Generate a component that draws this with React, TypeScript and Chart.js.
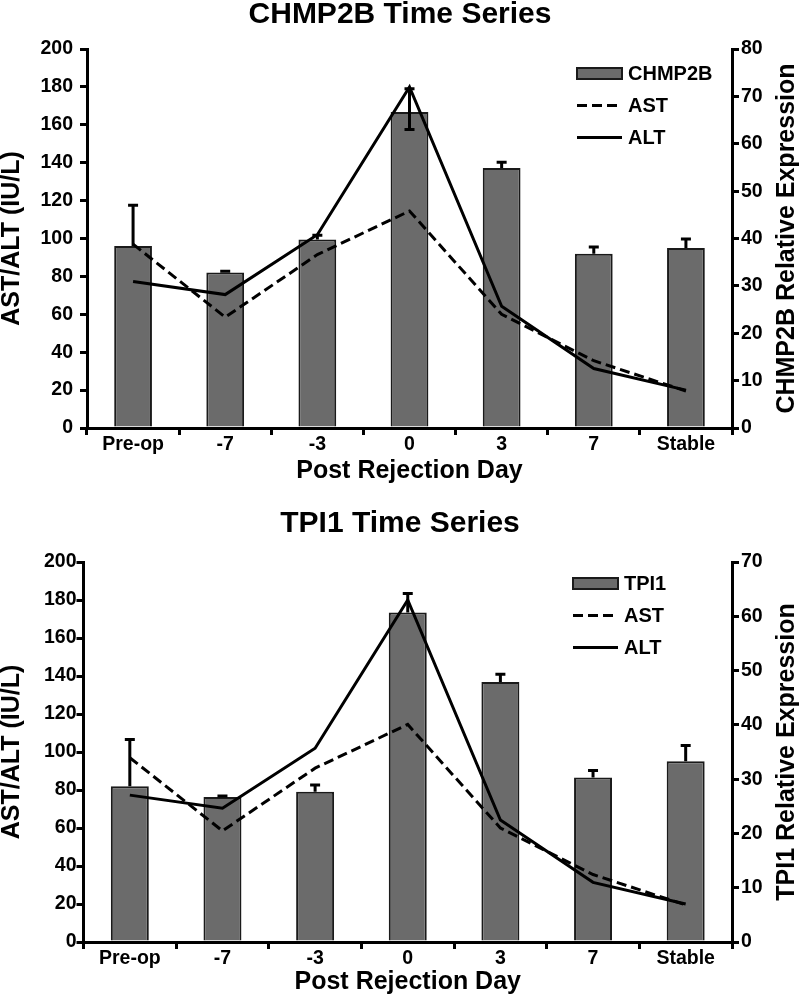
import React, { useEffect, useRef } from "react";
import { Chart, registerables } from "chart.js";

Chart.register(...registerables);

// ---------- data ----------
const categories = ["Pre-op", "-7", "-3", "0", "3", "7", "Stable"];
const astValues = [97, 58.5, 91.5, 114.5, 60, 35.5, 19.5];
const altValues = [77.3, 70.4, 102, 180, 64.2, 31.4, 20];

const chmp2bValues = [38.4, 32.8, 39.8, 66.7, 54.9, 36.8, 38.0];
const chmp2bErrUp = [8.6, 0.3, 0.9, 4.9, 1.2, 1.4, 1.9];
const chmp2bErrDown = [0, 0, 0, 3.7, 0, 0, 0];

const tpi1Values = [28.7, 26.7, 27.7, 60.7, 47.9, 30.3, 33.3];
const tpi1ErrUp = [8.6, 0.2, 1.2, 3.5, 1.4, 1.3, 2.9];
const tpi1ErrDown = [0, 0, 0, 0, 0, 0, 0];

const leftAxisMax = 200;
const leftAxisStep = 20;
const chmp2bAxisMax = 80;
const tpi1AxisMax = 70;
const rightAxisStep = 10;

// ---------- style ----------
const FONT = "'Liberation Sans', Arial, Helvetica, sans-serif";
const BAR_FILL = "#6b6b6b";
const BAR_BORDER = "#1a1a1a";

type PanelCfg = {
  title: string;
  gene: string;
  values: number[];
  errUp: number[];
  errDown: number[];
  rightMax: number;
  height: number;
  titlePadTop: number;
  titlePadBottom: number;
  leftWidth: number;
  leftTickPad: number;
  xHeight: number;
  xTitlePad: number;
  legendX: number;
  legendY: number;
};

function buildConfig(p: PanelCfg): any {
  const errorBarPlugin = {
    id: "errorBars",
    afterDatasetDraw(chart: any, args: any) {
      if (args.index !== 0) return;
      const ctx = chart.ctx;
      const xs = chart.scales.x;
      const ys = chart.scales.y1;
      ctx.save();
      ctx.strokeStyle = "#000";
      ctx.lineWidth = 3;
      p.values.forEach((v, i) => {
        const px = xs.getPixelForValue(i);
        const top = ys.getPixelForValue(v + p.errUp[i]);
        const bot = ys.getPixelForValue(v - p.errDown[i]);
        ctx.beginPath();
        ctx.moveTo(px, bot);
        ctx.lineTo(px, top);
        ctx.moveTo(px - 5, top);
        ctx.lineTo(px + 5, top);
        if (p.errDown[i] > 0) {
          ctx.moveTo(px - 5, bot);
          ctx.lineTo(px + 5, bot);
        }
        ctx.stroke();
      });
      ctx.restore();
    },
  };

  const decorPlugin = {
    id: "decor",
    afterDraw(chart: any) {
      const ctx = chart.ctx;
      const area = chart.chartArea;
      ctx.save();
      // right axis title, reading bottom to top
      ctx.translate(787, (area.top + area.bottom) / 2);
      ctx.rotate(-Math.PI / 2);
      ctx.font = `bold 25px ${FONT}`;
      ctx.fillStyle = "#000";
      ctx.textAlign = "center";
      ctx.textBaseline = "middle";
      ctx.fillText(`${p.gene} Relative Expression`, 0, 0);
      ctx.restore();

      // legend
      const x0 = p.legendX;
      const w = 45;
      const gap = 32;
      const labels = [p.gene, "AST", "ALT"];
      ctx.save();
      labels.forEach((lab, i) => {
        const cy = p.legendY + i * gap;
        if (i === 0) {
          ctx.fillStyle = BAR_FILL;
          ctx.fillRect(x0, cy - 5.5, w, 11);
          ctx.strokeStyle = BAR_BORDER;
          ctx.lineWidth = 2;
          ctx.strokeRect(x0, cy - 5.5, w, 11);
        } else {
          ctx.strokeStyle = "#000";
          ctx.lineWidth = 3;
          ctx.setLineDash(i === 1 ? [10, 5] : []);
          ctx.beginPath();
          ctx.moveTo(x0, cy);
          ctx.lineTo(x0 + w, cy);
          ctx.stroke();
          ctx.setLineDash([]);
        }
        ctx.fillStyle = "#000";
        ctx.font = `bold 20px ${FONT}`;
        ctx.textAlign = "left";
        ctx.textBaseline = "middle";
        ctx.fillText(lab, x0 + w + 6, cy + 1);
      });
      ctx.restore();
    },
  };

  const tickFont = { family: FONT, size: 19.5, weight: "bold", lineHeight: 1 };
  const titleFont = { family: FONT, size: 25, weight: "bold", lineHeight: 1 };
  const axisGrid = {
    drawOnChartArea: false,
    drawTicks: true,
    tickLength: 7,
    color: "#000",
    lineWidth: 3,
  };
  const axisBorder = { display: true, color: "#000", width: 3 };

  return {
    type: "bar",
    data: {
      labels: categories,
      datasets: [
        {
          type: "bar",
          label: p.gene,
          data: p.values,
          yAxisID: "y1",
          backgroundColor: BAR_FILL,
          borderColor: BAR_BORDER,
          borderWidth: 2,
          barPercentage: 0.41,
          categoryPercentage: 1,
          order: 3,
        },
        {
          type: "line",
          label: "AST",
          data: astValues,
          yAxisID: "y",
          borderColor: "#000",
          borderWidth: 3,
          borderDash: [10, 5],
          borderJoinStyle: "miter",
          pointRadius: 0,
          tension: 0,
          fill: false,
          order: 2,
        },
        {
          type: "line",
          label: "ALT",
          data: altValues,
          yAxisID: "y",
          borderColor: "#000",
          borderWidth: 3,
          borderJoinStyle: "miter",
          pointRadius: 0,
          tension: 0,
          fill: false,
          order: 1,
        },
      ],
    },
    options: {
      responsive: false,
      animation: false,
      devicePixelRatio: 1,
      layout: { padding: 0 },
      plugins: {
        legend: { display: false },
        tooltip: { enabled: false },
        title: {
          display: true,
          text: p.title,
          color: "#000",
          font: { family: FONT, size: 30, weight: "bold", lineHeight: 1 },
          padding: { top: p.titlePadTop, bottom: p.titlePadBottom },
        },
      },
      scales: {
        x: {
          type: "category",
          offset: true,
          grid: { ...axisGrid, offset: true },
          border: axisBorder,
          ticks: {
            color: "#000",
            font: tickFont,
            padding: 0,
            maxRotation: 0,
            autoSkip: false,
          },
          title: {
            display: true,
            text: "Post Rejection Day",
            color: "#000",
            font: titleFont,
            padding: { top: 0, bottom: p.xTitlePad },
          },
          afterFit: (s: any) => {
            s.height = p.xHeight;
          },
        },
        y: {
          position: "left",
          min: 0,
          max: leftAxisMax,
          grid: axisGrid,
          border: axisBorder,
          ticks: {
            stepSize: leftAxisStep,
            color: "#000",
            font: tickFont,
            padding: p.leftTickPad,
          },
          title: {
            display: true,
            text: "AST/ALT (IU/L)",
            color: "#000",
            font: titleFont,
            padding: { top: 0, bottom: 0 },
          },
          afterFit: (s: any) => {
            s.width = p.leftWidth;
          },
        },
        y1: {
          position: "right",
          min: 0,
          max: p.rightMax,
          grid: axisGrid,
          border: axisBorder,
          ticks: {
            stepSize: rightAxisStep,
            color: "#000",
            font: tickFont,
            padding: 2,
          },
          afterFit: (s: any) => {
            s.width = 68;
          },
        },
      },
    },
    plugins: [errorBarPlugin, decorPlugin],
  };
}

function ChartPanel({ cfg, top }: { cfg: PanelCfg; top: number }) {
  const ref = useRef<HTMLCanvasElement>(null);
  useEffect(() => {
    const chart = new Chart(ref.current as HTMLCanvasElement, buildConfig(cfg));
    return () => chart.destroy();
  }, []);
  return (
    <canvas
      ref={ref}
      width={800}
      height={cfg.height}
      style={{ position: "absolute", left: 0, top, width: 800, height: cfg.height, display: "block" }}
    />
  );
}

const topPanel: PanelCfg = {
  title: "CHMP2B Time Series",
  gene: "CHMP2B",
  values: chmp2bValues,
  errUp: chmp2bErrUp,
  errDown: chmp2bErrDown,
  rightMax: chmp2bAxisMax,
  height: 490,
  titlePadTop: 0,
  titlePadBottom: 19,
  leftWidth: 87,
  leftTickPad: 7,
  xHeight: 62,
  xTitlePad: 6,
  legendX: 577,
  legendY: 73.5,
};

const bottomPanel: PanelCfg = {
  title: "TPI1 Time Series",
  gene: "TPI1",
  values: tpi1Values,
  errUp: tpi1ErrUp,
  errDown: tpi1ErrDown,
  rightMax: tpi1AxisMax,
  height: 507,
  titlePadTop: 19,
  titlePadBottom: 23,
  leftWidth: 83.5,
  leftTickPad: 0,
  xHeight: 55,
  xTitlePad: 2,
  legendX: 573,
  legendY: 93.5,
};

export default function App() {
  return (
    <div
      style={{
        position: "absolute",
        left: 0,
        top: 0,
        width: 800,
        height: 997,
        overflow: "hidden",
        background: "#fff",
      }}
    >
      <ChartPanel cfg={topPanel} top={0} />
      <ChartPanel cfg={bottomPanel} top={490} />
    </div>
  );
}
